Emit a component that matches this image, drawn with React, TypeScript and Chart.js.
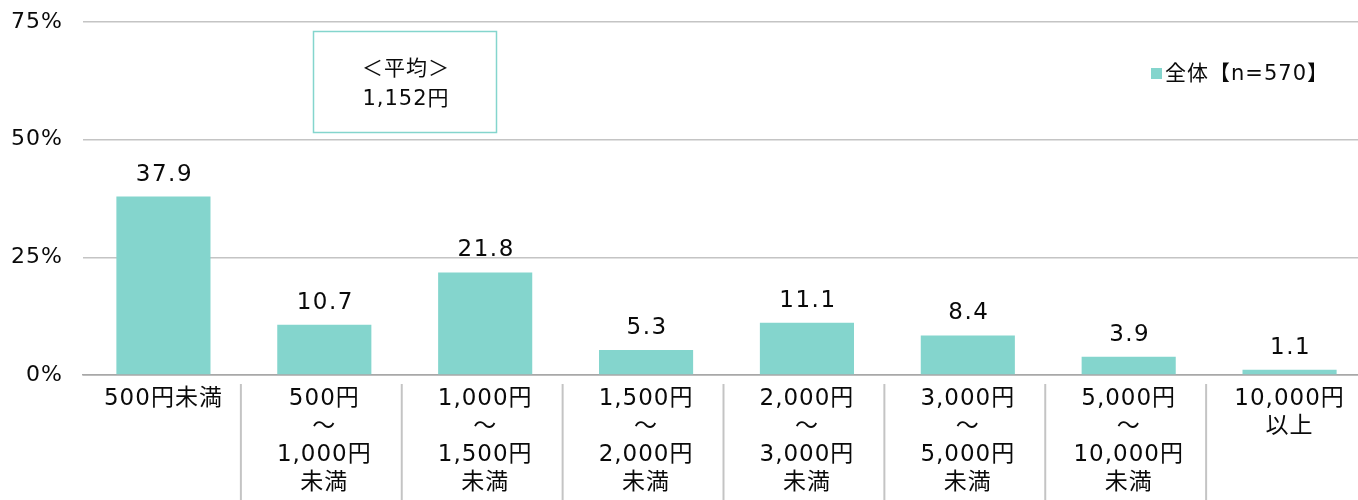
import React, { useEffect, useRef } from 'react';
import { Chart, registerables } from 'chart.js';
Chart.register(...registerables);

const categories: string[][] = [
  ['500円未満'],
  ['500円', '～', '1,000円', '未満'],
  ['1,000円', '～', '1,500円', '未満'],
  ['1,500円', '～', '2,000円', '未満'],
  ['2,000円', '～', '3,000円', '未満'],
  ['3,000円', '～', '5,000円', '未満'],
  ['5,000円', '～', '10,000円', '未満'],
  ['10,000円', '以上'],
];
const values = [37.9, 10.7, 21.8, 5.3, 11.1, 8.4, 3.9, 1.1];
const yTicks = [0, 25, 50, 75];
const seriesName = '全体【n=570】';
const avgLines = ['＜平均＞', '1,152円'];

const BAR = '#84D5CD';
const GRID = '#c4c4c4';
const AXIS = '#a8a8a8';
const TEXT = '#0a0a0a';
const FONT = "'DejaVu Sans', 'Noto Sans CJK JP', sans-serif";
const SPACING = '1px';

const spacingPlugin = {
  id: 'spacing',
  beforeUpdate(chart: any) { chart.ctx.letterSpacing = SPACING; },
  beforeDraw(chart: any) { chart.ctx.letterSpacing = SPACING; },
};

const extrasPlugin = {
  id: 'extras',
  afterDatasetsDraw(chart: any) {
    const ctx = chart.ctx;
    const meta = chart.getDatasetMeta(0);
    ctx.save();
    ctx.letterSpacing = '1.5px';
    ctx.fillStyle = TEXT;
    ctx.font = `23px ${FONT}`;
    ctx.textAlign = 'center';
    ctx.textBaseline = 'middle';
    meta.data.forEach((bar: any, i: number) => {
      ctx.fillText(values[i].toFixed(1), bar.x + 1, bar.y - 22);
    });
    ctx.restore();
  },
  afterDraw(chart: any) {
    const ctx = chart.ctx;
    const x = chart.scales.x;
    ctx.save();
    // category separators
    ctx.strokeStyle = GRID;
    ctx.lineWidth = 2;
    for (let i = 1; i < categories.length; i++) {
      const px = (x.getPixelForValue(i - 1) + x.getPixelForValue(i)) / 2 - 3;
      ctx.beginPath();
      ctx.moveTo(px, 384);
      ctx.lineTo(px, 500);
      ctx.stroke();
    }
    // legend
    ctx.letterSpacing = '1px';
    ctx.fillStyle = BAR;
    ctx.fillRect(1151, 68, 11, 11);
    ctx.fillStyle = TEXT;
    ctx.font = `21px ${FONT}`;
    ctx.textAlign = 'left';
    ctx.textBaseline = 'middle';
    ctx.fillText(seriesName, 1165, 75);
    // average box
    ctx.fillStyle = '#fff';
    ctx.fillRect(313, 31, 183, 101);
    ctx.strokeStyle = BAR;
    ctx.lineWidth = 1.5;
    ctx.strokeRect(313.5, 31.5, 183, 101);
    ctx.fillStyle = TEXT;
    ctx.font = `21px ${FONT}`;
    ctx.textAlign = 'center';
    ctx.letterSpacing = '1px';
    ctx.fillText(avgLines[0], 406, 70);
    ctx.fillText(avgLines[1], 406, 100);
    ctx.restore();
  },
};

export default function App() {
  const ref = useRef<HTMLCanvasElement>(null);
  useEffect(() => {
    if (!ref.current) return;
    const chart = new Chart(ref.current, {
      type: 'bar',
      data: {
        labels: categories,
        datasets: [{
          label: seriesName,
          data: values,
          backgroundColor: BAR,
          borderWidth: 0,
          categoryPercentage: 1,
          barPercentage: 0.585,
        }],
      },
      options: {
        animation: false,
        responsive: false,
        layout: { padding: { top: 22, right: 2, left: 0, bottom: 0 } },
        plugins: { legend: { display: false }, tooltip: { enabled: false } },
        scales: {
          x: {
            grid: { display: false, drawTicks: false },
            border: { display: true, color: AXIS, width: 1.5 },
            ticks: {
              color: TEXT,
              font: { family: FONT, size: 23, lineHeight: 1.22 },
              padding: 10,
              maxRotation: 0,
              autoSkip: false,
            },
            afterFit(scale: any) { scale.height = 125; },
          },
          y: {
            min: 0,
            max: 75,
            afterBuildTicks(scale: any) { scale.ticks = yTicks.map((v) => ({ value: v })); },
            grid: {
              drawTicks: false,
              tickLength: 0,
              color: (c: any) => (c.tick && c.tick.value === 0 ? AXIS : GRID),
              lineWidth: 1.5,
            },
            border: { display: false },
            ticks: {
              color: TEXT,
              font: { family: FONT, size: 22 },
              padding: 20,
              callback: (v: any) => `${v}%`,
            },
            afterFit(scale: any) {
              scale.width = 83;
              scale.paddingTop = 0;
              scale.paddingBottom = 0;
            },
          },
        },
      },
      plugins: [spacingPlugin, extrasPlugin],
    });
    return () => chart.destroy();
  }, []);
  return (
    <div style={{ position: 'fixed', left: 0, top: 0, width: 1358, height: 500, overflow: 'hidden', background: '#fff' }}>
      <canvas ref={ref} width={1372} height={500} style={{ width: 1372, height: 500, display: 'block' }} />
    </div>
  );
}
